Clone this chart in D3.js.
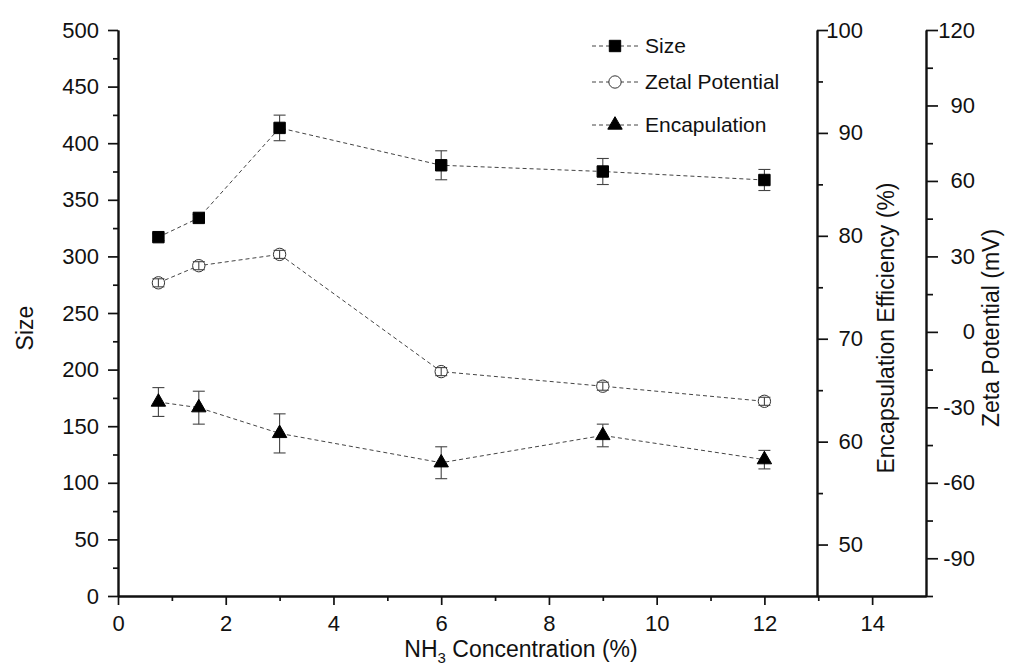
<!DOCTYPE html>
<html>
<head>
<meta charset="utf-8">
<script src="https://cdn.jsdelivr.net/npm/d3@7"></script>
<style>
  body { margin: 0; background: #fff; }
  svg text { font-family: "Liberation Sans", Arial, sans-serif; fill: #111; }
</style>
</head>
<body>
<div id="wrapper"></div>
<script>
// data
const concentration = [0.75, 1.5, 3, 6, 9, 12];
const sizeValues = [317, 334, 413.5, 380.5, 375, 367.5];
const sizeErrors = [3, 3, 11.3, 12.8, 11.5, 9.3];
const zetaValues = [19.5, 26.3, 30.8, -15.8, -21.6, -27.6];
const zetaErrors = [1.6, 1.6, 1.6, 1.6, 1.6, 1.6];
const encapValues = [63.85, 63.3, 60.8, 57.95, 60.6, 58.25];
const encapErrors = [1.4, 1.6, 1.9, 1.55, 1.1, 0.9];

const xTicks = [0, 2, 4, 6, 8, 10, 12, 14];
const xMinor = [1, 3, 5, 7, 9, 11, 13];
const sizeTicks = [0, 50, 100, 150, 200, 250, 300, 350, 400, 450, 500];
const sizeMinor = [25, 75, 125, 175, 225, 275, 325, 375, 425, 475];
const encapTicks = [50, 60, 70, 80, 90, 100];
const encapMinor = [55, 65, 75, 85, 95];
const zetaTicks = [-90, -60, -30, 0, 30, 60, 90, 120];
const zetaMinor = [-105, -75, -45, -15, 15, 45, 75, 105];

const legendLabels = ["Size", "Zetal Potential", "Encapulation"];

const width = 1024, height = 668;
const dims = { left: 118, right: 926, top: 30, bottom: 596, encapX: 817 };

const svg = d3.select("#wrapper").append("svg")
  .attr("width", width).attr("height", height);

const x = d3.scaleLinear().domain([0, 15]).range([dims.left, dims.right]);
const ySize = d3.scaleLinear().domain([0, 500]).range([dims.bottom, dims.top]);
const yEncap = d3.scaleLinear().domain([45, 100]).range([dims.bottom, dims.top]);
const yZeta = d3.scaleLinear().domain([-105, 120]).range([dims.bottom, dims.top]);

const tickFont = "22px";
const titleFont = "23px";
const legendFont = "21px";
const plain = d => String(d);   // hyphen minus, like the original

function styleAxis(g) {
  g.select(".domain").attr("stroke", "#111").attr("stroke-width", 1.9);
  g.selectAll(".tick line").attr("stroke", "#111").attr("stroke-width", 1.7);
  g.selectAll(".tick text").style("font-size", tickFont).attr("fill", "#111")
    .style("font-family", "'Liberation Sans', Arial, sans-serif");
}

// x axis
svg.append("g").attr("transform", `translate(0,${dims.bottom})`)
  .call(d3.axisBottom(x).tickValues(xMinor).tickSize(5).tickSizeOuter(0).tickFormat(""))
  .call(styleAxis);
svg.append("g").attr("transform", `translate(0,${dims.bottom})`)
  .call(d3.axisBottom(x).tickValues(xTicks).tickSize(9).tickSizeOuter(0).tickPadding(10).tickFormat(plain))
  .call(styleAxis);

// left axis (Size)
svg.append("g").attr("transform", `translate(${dims.left},0)`)
  .call(d3.axisLeft(ySize).tickValues(sizeMinor).tickSize(5).tickSizeOuter(0).tickFormat(""))
  .call(styleAxis);
svg.append("g").attr("transform", `translate(${dims.left},0)`)
  .call(d3.axisLeft(ySize).tickValues(sizeTicks).tickSize(10).tickSizeOuter(0).tickPadding(9).tickFormat(plain))
  .call(styleAxis);

// encapsulation axis
svg.append("g").attr("transform", `translate(${dims.encapX},0)`)
  .call(d3.axisRight(yEncap).tickValues(encapMinor).tickSize(6).tickSizeOuter(0).tickFormat(""))
  .call(styleAxis);
svg.append("g").attr("transform", `translate(${dims.encapX},0)`)
  .call(d3.axisRight(yEncap).tickValues(encapTicks).tickSize(11).tickSizeOuter(0).tickFormat(plain))
  .call(styleAxis)
  .selectAll(".tick text").attr("text-anchor", "end").attr("x", 46);

// zeta axis
svg.append("g").attr("transform", `translate(${dims.right},0)`)
  .call(d3.axisRight(yZeta).tickValues(zetaMinor).tickSize(7).tickSizeOuter(0).tickFormat(""))
  .call(styleAxis);
svg.append("g").attr("transform", `translate(${dims.right},0)`)
  .call(d3.axisRight(yZeta).tickValues(zetaTicks).tickSize(12).tickSizeOuter(0).tickFormat(plain))
  .call(styleAxis)
  .selectAll(".tick text").attr("text-anchor", "end").attr("x", 49);

// axis titles
const xTitle = svg.append("text")
  .attr("x", 521).attr("y", 657)
  .attr("text-anchor", "middle")
  .style("font-size", titleFont);
xTitle.append("tspan").text("NH");
xTitle.append("tspan").text("3").attr("dy", 6).style("font-size", "15px");
xTitle.append("tspan").text(" Concentration (%)").attr("dy", -6);

svg.append("text")
  .attr("transform", "translate(33,328) rotate(-90)")
  .attr("text-anchor", "middle")
  .style("font-size", titleFont)
  .text("Size");
svg.append("text")
  .attr("transform", "translate(894,328) rotate(-90)")
  .attr("text-anchor", "middle")
  .style("font-size", titleFont)
  .text("Encapsulation Efficiency (%)");
svg.append("text")
  .attr("transform", "translate(999,328) rotate(-90)")
  .attr("text-anchor", "middle")
  .style("font-size", titleFont)
  .text("Zeta Potential (mV)");

// series
const series = [
  { values: sizeValues, errors: sizeErrors, y: ySize, symbol: d3.symbolSquare, area: 130, fill: "#000", stroke: "#000", barsOnTop: false },
  { values: zetaValues, errors: zetaErrors, y: yZeta, symbol: d3.symbolCircle, area: 120, fill: "#fff", stroke: "#333", barsOnTop: true },
  { values: encapValues, errors: encapErrors, y: yEncap, symbol: d3.symbolTriangle, area: 90, fill: "#000", stroke: "#000", barsOnTop: false }
];

const line = d3.line();

function drawBars(s) {
  const g = svg.append("g").attr("stroke", "#444").attr("stroke-width", 1.1);
  concentration.forEach((c, i) => {
    const cx = x(c);
    const y1 = s.y(s.values[i] + s.errors[i]);
    const y2 = s.y(s.values[i] - s.errors[i]);
    g.append("line").attr("x1", cx).attr("x2", cx).attr("y1", y1).attr("y2", y2);
    g.append("line").attr("x1", cx - 6).attr("x2", cx + 6).attr("y1", y1).attr("y2", y1);
    g.append("line").attr("x1", cx - 6).attr("x2", cx + 6).attr("y1", y2).attr("y2", y2);
  });
}

series.forEach(s => {
  const pts = concentration.map((c, i) => [x(c), s.y(s.values[i])]);
  svg.append("path")
    .attr("d", line(pts))
    .attr("fill", "none")
    .attr("stroke", "#444")
    .attr("stroke-width", 1)
    .attr("stroke-dasharray", "4,3");
});

series.forEach(s => {
  if (!s.barsOnTop) drawBars(s);
  svg.append("g").selectAll("path")
    .data(concentration)
    .join("path")
    .attr("d", d3.symbol().type(s.symbol).size(s.area))
    .attr("transform", (c, i) => `translate(${x(c)},${s.y(s.values[i])})`)
    .attr("fill", s.fill)
    .attr("stroke", s.stroke)
    .attr("stroke-width", 1);
  if (s.barsOnTop) drawBars(s);
});

// legend
const legendRows = [46, 82, 125];
legendLabels.forEach((label, i) => {
  const s = series[i];
  const ly = legendRows[i];
  svg.append("line")
    .attr("x1", 592).attr("x2", 639).attr("y1", ly).attr("y2", ly)
    .attr("stroke", "#444").attr("stroke-width", 1).attr("stroke-dasharray", "4,3");
  svg.append("path")
    .attr("d", d3.symbol().type(s.symbol).size(s.area))
    .attr("transform", `translate(615,${ly})`)
    .attr("fill", s.fill).attr("stroke", s.stroke);
  svg.append("text")
    .attr("x", 645).attr("y", ly + 7)
    .style("font-size", legendFont)
    .text(label);
});
</script>
</body>
</html>
